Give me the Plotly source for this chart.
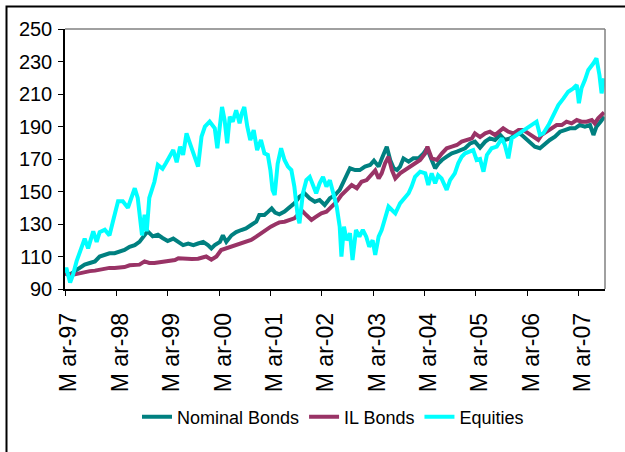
import plotly.graph_objects as go

# Months since Mar-97 and index values
nominal_months = [0, 1.2, 2.3, 3.5, 4.6, 5.8, 7, 8.1, 9.3, 10.4, 11.6, 12.8, 13.9, 15.1, 16.3, 17.4,
                  18.6, 19.3, 20.5, 21.7, 22.8, 24, 25.3, 26.5, 27.6, 28.8, 30, 31.1, 32.3, 33.4, 34.2,
                  35, 36.2, 36.9, 37.7, 38.9, 40, 41.2, 42.3, 43.5, 44.7, 45.4, 46.6, 47.5, 48.3, 49.1,
                  50.1, 51.3, 52.5, 53.6, 54.8, 56, 57.2, 58.4, 59.5, 60.7, 61.9, 63.1, 64.2, 65.4, 66.6,
                  67.8, 68.9, 70.1, 71.3, 72.2, 73.3, 74.0, 74.8, 75.2, 76, 76.8, 77.6, 78.3, 79.1, 80.3,
                  81.4, 82.6, 83.8, 84.6, 85.7, 86.5, 87.3, 88.1, 89.2, 90.4, 91.6, 92.7, 93.5, 94.7, 95.8,
                  97, 98.2, 99.3, 100.5, 101.7, 102.8, 104, 105.2, 106.3, 107.5, 108.7, 109.8, 111, 112.2,
                  113.3, 114.5, 115.7, 116.8, 118, 119.2, 120.3, 121.5, 122.7, 123.5, 124.2, 125.2, 126]
nominal_values = [100, 99, 101, 103, 105, 106, 107, 110, 111, 112, 112, 113, 114, 116, 117, 119,
                  123, 125.5, 122.4, 123.4, 121.4, 119.5, 121, 119, 117, 118, 117, 118, 119, 117, 115,
                  117, 119, 123, 119, 123, 125, 126.3, 127.3, 129.4, 131.4, 135.5, 135.5, 137.6, 139.6, 137,
                  136, 137.6, 140.7, 142.7, 146.8, 148.9, 145.8, 143.7, 144.8, 141.7, 145.8, 147.8, 151, 158, 164.3,
                  163.2, 163.2, 165.3, 166.3, 169, 165.3, 170, 175, 177.5, 169.4, 164.3, 163.2, 165.3, 170.4, 168.4,
                  170.4, 170.4, 173.5, 176.6, 169.4, 164.3, 167.3, 169.4, 171.4, 173.5, 174.5, 175.5, 176.6, 179.6, 180.7,
                  177, 180.7, 182.7, 181.7, 184.8, 181.7, 182.7, 184.8, 185.8, 182.7, 179.6, 177.6, 176.6, 179.6,
                  181.7, 183.7, 186.8, 187.8, 188.9, 188.9, 190.9, 189.9, 190.9, 184.8, 189.9, 193, 196]

il_months = [0, 0.8, 2.3, 3.5, 4.6, 5.8, 7, 8.1, 9.3, 10.4, 11.6, 12.8, 13.9, 15.1, 16.3, 17.4, 18.6,
             19.7, 20.9, 22, 23.2, 24.8, 25.7, 26.5, 28, 29.6, 31.1, 32.3, 33, 34.2, 35.4, 36.5, 37.7,
             38.9, 40, 41.2, 42.3, 43.5, 44.7, 45.8, 47, 48.1, 49.3, 50.1, 51.3, 52.5, 53.6, 54.8, 55.6,
             56.4, 57.6, 58.7, 59.9, 61.1, 62.3, 63.5, 64.6, 65.8, 67, 68.2, 69.3, 70.5, 71.7, 72.5, 73.3,
             74, 74.8, 75.6, 76.4, 77.2, 78.3, 79.5, 80.7, 81.8, 83, 84.2, 84.7, 85.7, 86.9, 88.1, 89.2,
             90.4, 91.6, 92.7, 93.9, 95.1, 95.8, 97, 98.2, 99.3, 100.5, 101.7, 102.4, 103.6, 104.8, 106,
             107.1, 108.3, 109.5, 110.6, 111.4, 112.6, 113.7, 114.9, 116.1, 117.2, 118.4, 119.6, 120.7,
             121.9, 123.1, 123.8, 124.6, 125.4, 126]
il_values = [99.5, 98.8, 99, 99.8, 100, 101, 101.3, 102, 102.5, 103, 103, 103.3, 103.5, 104.6, 104.6, 105, 107,
             106, 106, 106.4, 106.8, 107, 107.8, 108.9, 108.5, 108.5, 108.6, 109.5, 110, 108, 110, 114, 115,
             116, 117, 118, 119, 120.2, 122.2, 124.3, 126.3, 128.4, 130, 131, 131.4, 132.5, 133.5, 136.6, 137.6,
             135.5, 132.5, 134.5, 136.6, 137.6, 140.7, 143.7, 147.8, 151, 154, 152, 156, 157, 160.2, 163, 158,
             161.2, 167.3, 171.4, 163.2, 158.1, 161.2, 163.2, 165.3, 167.3, 169.4, 173.5, 177.6, 170.4, 169.4, 173.5, 176.6,
             177.6, 178.6, 180.7, 181.7, 182.7, 185.8, 183.5, 185.8, 186.8, 184.8, 187.8, 188.9, 186.8, 185.8, 187.8,
             187.8, 185.8, 183.7, 181.7, 184.8, 186.8, 188.9, 190.9, 190.9, 193, 191.9, 194, 193,
             193, 194, 191.9, 195, 197, 198.7]

equity_months = [0, 0.3, 1.2, 1.9, 2.7, 3.6, 4.6, 5.4, 6.6, 7.4, 8.1, 9.3, 10.4, 11.2, 12.4, 13.5, 14.7,
                 15.5, 16.3, 17.0, 17.4, 18.0, 18.6, 19.1, 19.7, 20.9, 21.7, 22.8, 23.6, 24.5, 25.3, 26.1,
                 26.9, 27.6, 28.4, 29.2, 30, 31.1, 31.9, 32.7, 33.8, 35, 35.6, 36.2, 36.7, 37.3, 37.9, 38.5,
                 39.2, 40, 40.8, 41.3, 41.9, 42.6, 43.3, 44.1, 44.9, 45.8, 46.6, 47.4, 48, 48.5, 49, 49.7,
                 50.5, 51.3, 52.1, 52.9, 53.6, 54.4, 54.8, 55.6, 56.4, 57.2, 58, 58.7, 59.5, 60.3, 61.1, 61.9,
                 62.7, 63.5, 64.2, 64.6, 65.2, 65.8, 66.6, 67.2, 68, 68.8, 69.6, 70.4, 71.1, 71.9, 72.5, 73.3,
                 74, 74.8, 75.6, 76.4, 77.2, 78.3, 79.5, 80.3, 81, 81.8, 83, 84.2, 84.9, 85.7, 86.5, 87.2, 88,
                 89.2, 90, 91.1, 91.9, 92.7, 93.5, 94.6, 95.4, 96.2, 97, 97.8, 98.6, 99.7, 100.9, 102.1, 102.8,
                 103.6, 104.4, 105.6, 106.7, 107.9, 109.1, 110.2, 111, 111.8, 113, 114.1, 115.3, 116.5, 117.6,
                 118.8, 119.6, 120.1, 120.7, 121.5, 122.3, 123.5, 124.2, 124.9, 125.4, 126]
equity_values = [100, 103, 94, 99, 107, 113, 121, 115, 125.5, 119, 125, 126.5, 123, 131.6, 144, 144, 140,
                 146, 152, 146, 137.7, 123, 135.7, 125.5, 146, 156, 166.4, 164, 167.5, 171.4, 175.5, 168,
                 177.6, 172.5, 185.8, 179.6, 173.5, 165.3, 183.7, 190, 193, 188.9, 176.6, 190, 202, 194, 179.6, 196,
                 193, 200, 192, 198, 202, 190, 181.7, 187.8, 175.5, 181.7, 173.5, 172.5, 163.2, 151, 147.8, 167,
                 176.6, 169.4, 165.3, 163.2, 153, 134.5, 130.4, 148.9, 157, 159, 153, 148.9, 155, 159, 153, 157,
                 148.9, 140.7, 128.4, 109.9, 128.4, 120, 124.3, 107.8, 126.3, 122.2, 126.3, 122.2, 116, 120, 111, 122.2,
                 126.3, 134.5, 140.7, 138.6, 136.6, 142.7, 146.8, 148.9, 153, 159, 162.2, 161.2, 154, 161.2, 155, 160, 158,
                 151, 157, 161.2, 167.3, 171.4, 173.5, 174.5, 175.5, 169.4, 170, 162.2, 172.5, 176.6, 177.6, 182.7, 178.6,
                 170.4, 182.7, 184.8, 186.8, 188.9, 190.9, 193, 184.8, 185.8, 190.9, 197, 203.2, 207.3, 211.4,
                 213.5, 215.5, 204.3, 213.5, 218.6, 224.8, 228.9, 232, 221.7, 210.4, 219.6]

tick_months = [0, 12, 24, 36, 48, 60, 72, 84, 96, 108, 120]
tick_labels = ["M ar-97", "M ar-98", "M ar-99", "M ar-00", "M ar-01", "M ar-02",
               "M ar-03", "M ar-04", "M ar-05", "M ar-06", "M ar-07"]
y_ticks = [90, 110, 130, 150, 170, 190, 210, 230, 250]

FONT = "Liberation Sans, Arial, sans-serif"

fig = go.Figure()
fig.add_trace(go.Scatter(x=nominal_months, y=nominal_values, mode="lines", name="Nominal Bonds",
                         line=dict(color="#008080", width=4)))
fig.add_trace(go.Scatter(x=il_months, y=il_values, mode="lines", name="IL Bonds",
                         line=dict(color="#993366", width=4)))
fig.add_trace(go.Scatter(x=equity_months, y=equity_values, mode="lines", name="Equities",
                         line=dict(color="#00FFFF", width=4)))

L, R, T, B = 65, 20, 29, 163
W, H = 625, 452
pw, ph = W - L - R, H - T - B

def px_x(p):
    return (p - L) / pw

def px_y(p):
    return (H - B - p) / ph

fig.update_layout(
    width=W, height=H, autosize=False,
    margin=dict(l=L, r=R, t=T, b=B, pad=0, autoexpand=False),
    paper_bgcolor="white", plot_bgcolor="white",
    font=dict(family=FONT, color="black"),
    showlegend=True,
    legend=dict(orientation="h", x=px_x(333), xanchor="center", y=px_y(417), yanchor="middle",
                font=dict(family=FONT, size=18, color="black"), bgcolor="rgba(0,0,0,0)"),
    shapes=[
        dict(type="line", xref="paper", yref="paper", x0=0, x1=1, y0=1, y1=1,
             line=dict(color="#808080", width=1.5)),
        dict(type="line", xref="paper", yref="paper", x0=1, x1=1, y0=0, y1=1,
             line=dict(color="#808080", width=1.5)),
        dict(type="rect", xref="paper", yref="paper", x0=px_x(6.5), x1=px_x(660),
             y0=px_y(480), y1=px_y(6.5), line=dict(color="black", width=2)),
    ],
)
fig.update_xaxes(range=[0, 126.2], tickmode="array", tickvals=tick_months, ticktext=tick_labels,
                 tickangle=-90, ticks="outside", ticklen=5, tickwidth=1.2, tickcolor="black",
                 showline=True, linecolor="black", linewidth=1.5, showgrid=False, zeroline=False,
                 automargin=False, ticklabelshift=4,
                 tickfont=dict(family=FONT, size=23, color="black"), ticklabelstandoff=8)
fig.update_yaxes(range=[90, 250], tickmode="array", tickvals=y_ticks, ticks="outside", ticklen=5,
                 tickwidth=1.2, tickcolor="black", showline=True, linecolor="black", linewidth=1.5,
                 showgrid=False, zeroline=False, automargin=False,
                 tickfont=dict(family=FONT, size=20, color="black"), ticklabelstandoff=2)

fig.write_html("out.html", config={"displayModeBar": False},
               post_script="document.body.style.margin='0';")
